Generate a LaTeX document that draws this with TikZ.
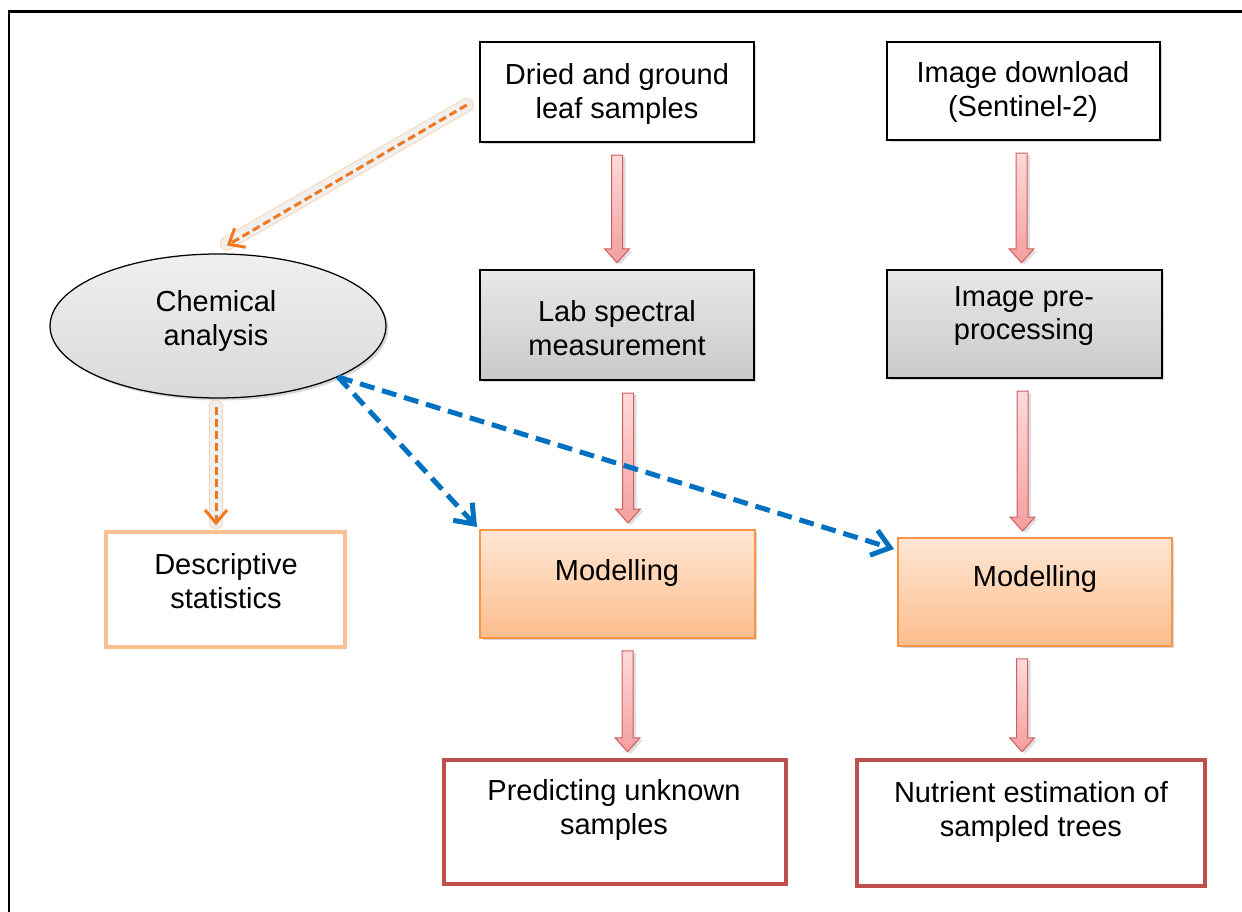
\documentclass[tikz,border=0pt]{standalone}
\usepackage{fontspec}
\setmainfont{Liberation Sans}
\usetikzlibrary{arrows.meta,calc,shadows,shapes.geometric}
\definecolor{orangeB}{RGB}{247,150,70}
\definecolor{orangeL}{RGB}{250,192,144}
\definecolor{orangeT}{RGB}{255,230,212}
\definecolor{orangeBot}{RGB}{252,190,140}
\definecolor{redB}{RGB}{192,80,77}
\definecolor{blueA}{RGB}{0,112,192}
\definecolor{orangeA}{RGB}{240,120,32}
\definecolor{pinkT}{RGB}{255,218,218}
\definecolor{pinkB}{RGB}{243,158,158}
\definecolor{pinkE}{RGB}{205,95,95}
\def\pxu{0.02cm}
\newcommand\barrow[3]{%
\path let \p1=#2, \p2=#3 in
 [blockarr] (\x1+#1*\pxu-5.5*\pxu,\y1-12*\pxu) -- (\x1+#1*\pxu+5.5*\pxu,\y1-12*\pxu)
 -- (\x1+#1*\pxu+5.5*\pxu,\y2+20*\pxu) -- (\x1+#1*\pxu+12.5*\pxu,\y2+20*\pxu)
 -- (\x1+#1*\pxu,\y2+6*\pxu) -- (\x1+#1*\pxu-12.5*\pxu,\y2+20*\pxu)
 -- (\x1+#1*\pxu-5.5*\pxu,\y2+20*\pxu) -- cycle;}
\begin{document}
\begin{tikzpicture}[x=0.02cm,y=-0.02cm,
 txt/.style={align=center,font=\fontsize{16.5}{19.3}\selectfont,inner sep=0pt},
 shad/.style={drop shadow={shadow xshift=0.05cm,shadow yshift=-0.05cm,opacity=.3,fill=gray}},
 whitebox/.style={rectangle,draw=black,line width=0.05cm,fill=white,inner sep=0pt,shad},
 graybox/.style={rectangle,draw=black,line width=0.05cm,top color=gray!18,bottom color=gray!42,inner sep=0pt,shad},
 chembox/.style={ellipse,draw=black,line width=0.025cm,top color=gray!12,bottom color=gray!30,inner sep=0pt,shad},
 modbox/.style={rectangle,draw=orangeB,line width=0.04cm,top color=orangeT,bottom color=orangeBot,inner sep=0pt,shad},
 descbox/.style={rectangle,draw=orangeL,line width=0.07cm,fill=white,inner sep=0pt},
 outbox/.style={rectangle,draw=redB,line width=0.09cm,fill=white,inner sep=0pt},
 blockarr/.style={draw=pinkE,line width=0.02cm,top color=pinkT,bottom color=pinkB,
   drop shadow={shadow xshift=0.06cm,shadow yshift=-0.04cm,opacity=.25,fill=gray}},
 glowA/.style={line width=0.28cm,draw=orangeL!70,line cap=round},
 glowB/.style={line width=0.24cm,draw=gray!12,line cap=round},
 orarr/.style={draw=orangeA,line width=0.06cm,dash pattern=on 0.16cm off 0.08cm,
   -{Straight Barb[length=0.26cm,width=0.44cm]}},
 bluearr/.style={draw=blueA,line width=0.1cm,dash pattern=on 0.3cm off 0.16cm,
   -{Straight Barb[length=0.34cm,width=0.52cm]}}
]
\useasboundingbox (0,0) rectangle (1242,912);
\fill[white] (0,0) rectangle (1242,912);
\draw[line width=0.06cm] (9,912) -- (9,12) -- (1242,12);

% boxes
\node[whitebox,minimum width=5.48cm,minimum height=2.0cm] (dried) at (617,92) {};
\node[whitebox,minimum width=5.46cm,minimum height=1.96cm] (down) at (1023.5,91) {};
\node[chembox,minimum width=6.72cm,minimum height=2.88cm] (chem) at (218,326) {};
\node[graybox,minimum width=5.48cm,minimum height=2.2cm] (lab) at (617,325) {};
\node[graybox,minimum width=5.5cm,minimum height=2.16cm] (prep) at (1024.5,324) {};
\node[descbox,minimum width=4.78cm,minimum height=2.3cm] (desc) at (225.5,589.5) {};
\node[modbox,minimum width=5.5cm,minimum height=2.16cm] (mod1) at (617.5,584) {};
\node[modbox,minimum width=5.48cm,minimum height=2.16cm] (mod2) at (1035,592) {};
\node[outbox,minimum width=6.84cm,minimum height=2.48cm] (pred) at (615,822) {};
\node[outbox,minimum width=6.96cm,minimum height=2.52cm] (nutr) at (1031,823) {};

% texts
\node[txt] (driedt) at (617,94) {Dried and ground\\leaf samples};
\node[txt] (downt) at (1023,92) {Image download\\(Sentinel-2)};
\node[txt] (chemt) at (216,321) {Chemical\\analysis};
\node[txt] (labt) at (617,328) {Lab spectral\\measurement};
\node[txt] (prept) at (1024,316) {Image pre-\\processing};
\node[txt] (desct) at (226,581) {Descriptive\\statistics};
\node[txt] (mod1t) at (617,573) {Modelling};
\node[txt] (mod2t) at (1035,579) {Modelling};
\node[txt] (predt) at (614,810) {Predicting unknown\\samples};
\node[txt] (nutrt) at (1031,812) {Nutrient estimation of\\sampled trees};

% block arrows
\barrow{0}{(dried.south)}{(lab.north)}
\barrow{11}{(lab.south)}{(mod1.north)}
\barrow{10}{(mod1.south)}{(pred.north)}
\barrow{-2}{(down.south)}{(prep.north)}
\barrow{-2}{(prep.south)}{(mod2.north)}
\barrow{-13}{(mod2.south)}{(nutr.north)}

% orange dashed arrows with glow
\draw[glowA] ($(dried.west)+(-12,13)$) -- ($(chem.83)+(0,-10)$);
\draw[glowB] ($(dried.west)+(-12,13)$) -- ($(chem.83)+(0,-10)$);
\draw[orarr] ($(dried.west)+(-12,13)$) -- ($(chem.83)+(0,-8)$);
\draw[glowA] ($(chem.south)+(-2,8)$) -- ($(chem.south|-desc.north)+(-2,-8)$);
\draw[glowB] ($(chem.south)+(-2,8)$) -- ($(chem.south|-desc.north)+(-2,-8)$);
\draw[orarr] ($(chem.south)+(-2,8)$) -- ($(chem.south|-desc.north)+(-2,-5)$);

% blue dashed arrows
\draw[bluearr] (chem.-23) -- ($(mod1.north west)+(-2,-2)$);
\draw[bluearr] (chem.-23) -- ($(mod2.north west)+(-3,12)$);
\end{tikzpicture}
\end{document}
